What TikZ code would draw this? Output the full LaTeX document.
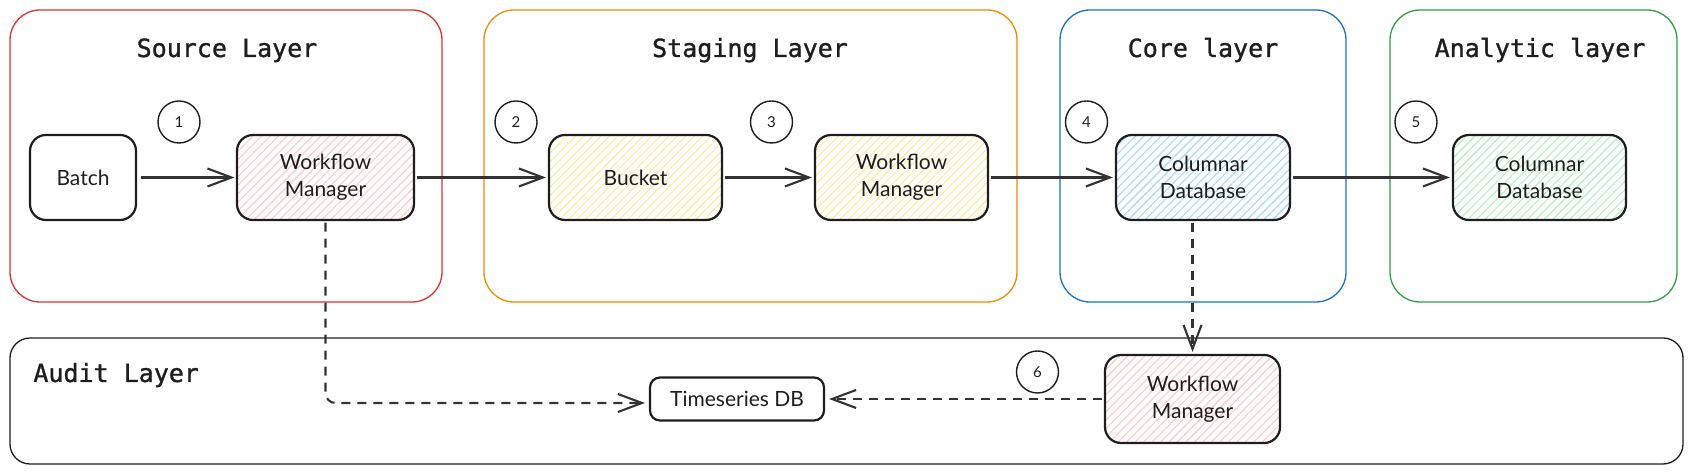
\documentclass[tikz,border=0pt]{standalone}
\usepackage{fontspec}
\setmainfont{Lato}
\newfontfamily\titlefont[FakeBold=1.2]{DejaVu Sans Mono}
\usetikzlibrary{arrows.meta,patterns.meta}
\definecolor{ink}{HTML}{1E1E1E}
\definecolor{arrowc}{HTML}{333333}
\definecolor{lred}{HTML}{E03131}
\definecolor{lorange}{HTML}{F08C00}
\definecolor{lblue}{HTML}{1971C2}
\definecolor{lgreen}{HTML}{2F9E44}
\definecolor{hred}{HTML}{FFC9C9}
\definecolor{hyellow}{HTML}{FFEC99}
\definecolor{hblue}{HTML}{A5D8FF}
\definecolor{hgreen}{HTML}{B2F2BB}
\tikzset{
  layer/.style={draw=#1, line width=0.65pt, rounded corners=15pt, inner sep=0pt},
  layertitle/.style={font=\titlefont\fontsize{12.5}{15}\selectfont, text=ink, anchor=base, inner sep=0pt},
  box/.style={draw=ink, line width=1.1pt, rounded corners=8pt, minimum height=42.5pt,
    align=center, font=\fontsize{10.5}{13.5}\selectfont, text=ink, inner sep=0pt},
  hatch/.style={pattern={Lines[angle=45,distance=3pt,line width=0.55pt]}, pattern color=#1},
  num/.style={draw=ink, line width=0.7pt, circle, minimum size=21pt, inner sep=0pt,
    font=\fontsize{7.5}{9}\selectfont, text=ink},
  flow/.style={draw=arrowc, line width=1.05pt, -{Straight Barb[length=12pt,width=9pt,line width=1.05pt]}},
  dflow/.style={flow, dash pattern=on 4.5pt off 3.5pt},
}
\begin{document}
\begin{tikzpicture}[x=0.5pt,y=-0.5pt]
\path[use as bounding box] (0,0) rectangle (1691,474);
% layers
\node[layer=lred, minimum width=216pt, minimum height=146pt] (srcL) at (226,156) {};
\node[layer=lorange, minimum width=266.5pt, minimum height=146pt] (stgL) at (750.5,156) {};
\node[layer=lblue, minimum width=143pt, minimum height=146pt] (coreL) at (1203,156) {};
\node[layer=lgreen, minimum width=143.5pt, minimum height=146pt] (anaL) at (1533.5,156) {};
\node[layer=ink, minimum width=836.5pt, minimum height=63pt, rounded corners=10pt] (audL) at (846.5,401) {};
% titles
\node[layertitle] (srcT) at (227,57) {Source Layer};
\node[layertitle] (stgT) at (750,57) {Staging Layer};
\node[layertitle] (coreT) at (1203,57) {Core layer};
\node[layertitle] (anaT) at (1540,57) {Analytic layer};
\node[layertitle, anchor=base west] (audT) at (33,382) {Audit Layer};
% boxes
\node[box, minimum width=53pt] (batch) at (83,177.5) {Batch};
\node[box, hatch=hred, minimum width=88.5pt] (wm1) at (325.5,177.5) {Workflow\\Manager};
\node[box, hatch=hyellow, minimum width=86.5pt] (bucket) at (635.5,177.5) {Bucket};
\node[box, hatch=hyellow, minimum width=86.5pt] (wm2) at (901.5,177.5) {Workflow\\Manager};
\node[box, hatch=hblue, minimum width=87pt] (col1) at (1203,177.5) {Columnar\\Database};
\node[box, hatch=hgreen, minimum width=86.5pt] (col2) at (1539.5,177.5) {Columnar\\Database};
\node[box, minimum width=87pt, minimum height=21.5pt, rounded corners=5pt] (ts) at (737,399) {Timeseries DB};
\node[box, hatch=hred, minimum width=87.5pt, minimum height=44pt] (wm3) at (1192.5,399) {Workflow\\Manager};
% numbers
\node[num] (n1) at (179,122) {1};
\node[num] (n2) at (516,122) {2};
\node[num] (n3) at (771.5,122) {3};
\node[num] (n4) at (1086.5,122) {4};
\node[num] (n5) at (1416,122) {5};
\node[num] (n6) at (1037.5,372) {6};
% connectors
\draw[flow] ([xshift=2pt]batch.east) -- ([xshift=-1pt]wm1.west);
\draw[flow] ([xshift=1pt]wm1.east) -- ([xshift=-1pt]bucket.west);
\draw[flow] ([xshift=1pt]bucket.east) -- ([xshift=-1pt]wm2.west);
\draw[flow] ([xshift=1pt]wm2.east) -- ([xshift=-1pt]col1.west);
\draw[flow] ([xshift=1pt]col1.east) -- ([xshift=-1pt]col2.west);
\draw[dflow, rounded corners=5pt] ([yshift=-1pt]wm1.south) |- ([xshift=-2pt,yshift=-2pt]ts.west);
\draw[dflow] ([xshift=-1pt]wm3.west) -- ([xshift=2pt]ts.east);
\draw[dflow] ([yshift=-1pt]wm3.north |- col1.south) -- ([yshift=1pt]wm3.north);
\end{tikzpicture}
\end{document}
